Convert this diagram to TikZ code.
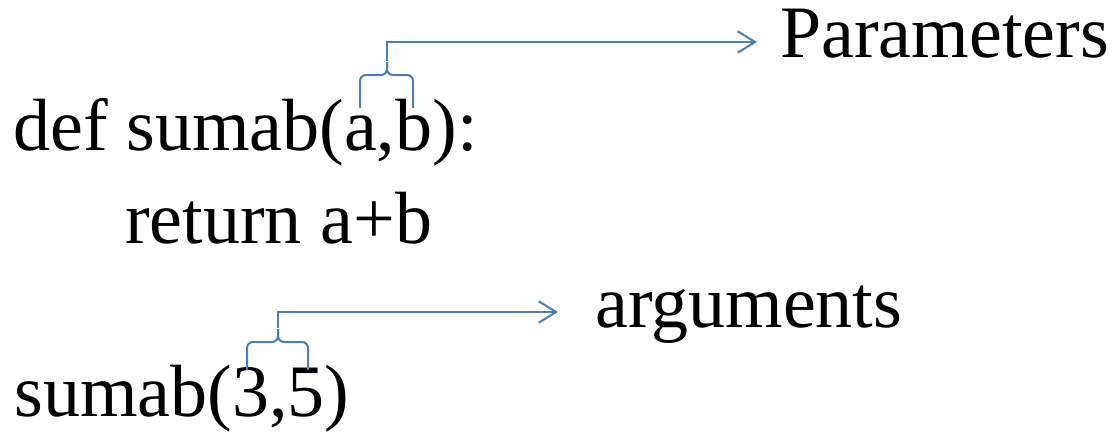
\documentclass[tikz,border=0pt]{standalone}
\usepackage{fontspec}
\setmainfont{LiberationSerif}[Extension=.ttf,UprightFont=*-Regular,BoldFont=*-Bold,ItalicFont=*-Italic]
\usetikzlibrary{arrows.meta}
\definecolor{bracecol}{RGB}{74,126,187}
\begin{document}
\begin{tikzpicture}[x=0.75pt,y=-0.75pt,
  txt/.style={anchor=base west,inner sep=0pt,font=\fontsize{55.5}{60}\selectfont},
  bracepath/.style={draw=bracecol,line width=1.5pt,rounded corners=4.5pt},
  arr/.style={draw=bracecol,line width=1.5pt,-{Straight Barb[length=13pt,width=16pt,line width=1.5pt]}}]
\useasboundingbox (0,0) rectangle (1114,432);
\node[txt] (def) at (13,150) {def sumab(a,b):};
\node[txt] (ret) at (125,243) {return a+b};
\node[txt] (call) at (14,416) {sumab(3,5)};
\node[txt] (par) at (780,57) {Parameters};
\node[txt] (arg) at (595,327) {arguments};
% brace 1
\coordinate (b1l) at (360,108);
\coordinate (b1r) at (413,108);
\coordinate (b1c) at (387,75);
\coordinate (b1s) at (387,62);
\coordinate (b1t) at (387,42);
\coordinate (b1e) at (757,42);
\draw[bracepath] (b1l) -- (b1l |- b1c) -- (b1c) -- (b1s);
\draw[bracepath] (b1r) -- (b1r |- b1c) -- (b1c) -- (b1s);
\draw[arr] ([yshift=0.75pt]b1s) -- (b1t) -- (b1e);
% brace 2
\coordinate (b2l) at (247,370);
\coordinate (b2r) at (308,370);
\coordinate (b2c) at (278,342);
\coordinate (b2s) at (278,329);
\coordinate (b2t) at (278,312);
\coordinate (b2e) at (558,312);
\draw[bracepath] (b2l) -- (b2l |- b2c) -- (b2c) -- (b2s);
\draw[bracepath] (b2r) -- (b2r |- b2c) -- (b2c) -- (b2s);
\draw[arr] ([yshift=0.75pt]b2s) -- (b2t) -- (b2e);
\end{tikzpicture}
\end{document}
